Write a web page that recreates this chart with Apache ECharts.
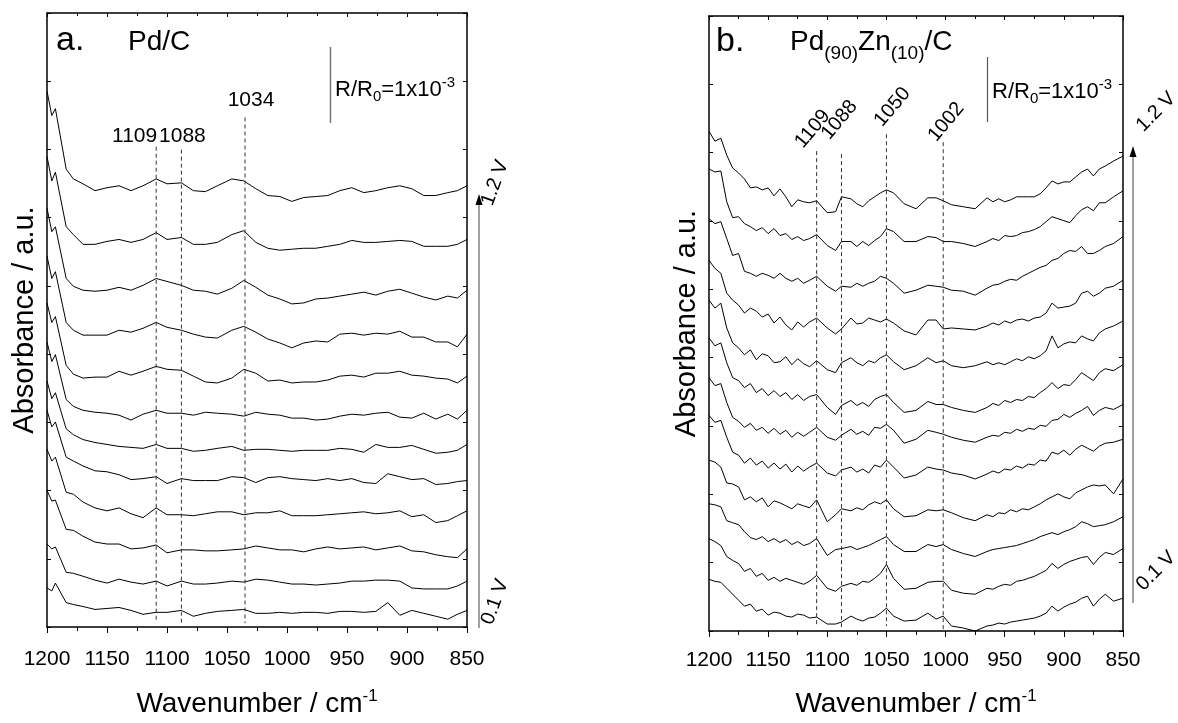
<!DOCTYPE html>
<html><head><meta charset="utf-8">
<script src="https://cdn.jsdelivr.net/npm/echarts/dist/echarts.min.js"></script>
<style>html,body{margin:0;padding:0;background:#fff}#c{width:1178px;height:723px}</style>
</head><body><div id="c"></div>
<script>
// ---------- DATA ----------
// wavenumbers (cm-1) at which each spectrum was read
const wnA = [1200,1196,1193,1184,1178,1170,1160,1150,1140,1130,1120,1109,1100,1088,1078,1068,1058,1046,1036,1026,1016,1006,996,986,976,966,956,946,936,926,916,906,896,886,876,866,858,850];
const wnB = [1200,1195,1190,1185,1180,1175,1170,1165,1160,1155,1150,1145,1140,1135,1130,1125,1120,1115,1109,
             1100,1093,1088,1080,1075,1070,1065,1060,1055,1050,1044,1035,1025,1015,1008,1002,
             995,985,975,965,960,955,950,945,940,935,930,925,920,915,910,905,900,895,890,885,880,875,870,865,858,850];

// Panel a: Pd/C, stacked absorbance (a.u.), top = 1.2 V ... bottom = 0.1 V
const pdC_1p2V = [549,524,531,469,459,454,447,450,452,447,452,459,454,455,447,446,452,459,457,449,442,441,436,440,441,442,447,450,445,447,450,452,449,442,442,445,447,452];
const pdC_1p1V = [482,457,466,410,402,392,392,395,397,394,397,404,397,399,392,392,394,402,406,394,388,386,387,388,388,390,392,396,394,394,395,396,395,390,390,390,392,397];
const pdC_1p0V = [429,405,410,357,349,345,344,345,348,345,350,357,354,350,345,344,341,347,355,348,340,336,331,332,336,337,339,341,343,340,344,346,342,338,335,339,337,345];
const pdC_0p9V = [380,357,364,312,304,299,299,299,304,302,306,312,307,304,300,297,296,304,308,302,295,291,286,291,293,292,300,301,299,301,300,303,297,297,292,292,287,300];
const pdC_0p8V = [332,312,318,268,259,255,256,256,262,258,262,267,264,263,257,251,250,255,264,260,252,253,250,251,251,253,257,258,256,260,260,262,258,257,255,254,250,257];
const pdC_0p7V = [292,272,279,233,226,222,220,219,217,212,218,222,219,219,217,220,219,218,216,220,218,217,214,214,212,213,216,218,217,219,220,215,214,219,213,218,213,222];
const pdC_0p6V = [252,234,240,203,197,192,189,187,185,184,183,187,183,183,180,181,183,185,181,182,182,181,180,181,181,181,183,182,179,187,184,184,186,182,178,179,181,187];
const pdC_0p5V = [222,205,210,174,170,165,160,159,156,151,152,154,147,152,150,150,150,154,153,148,153,154,152,151,150,152,150,152,148,147,157,154,151,152,146,147,149,150];
const pdC_0p4V = [182,170,174,138,136,128,122,119,122,116,112,122,115,115,114,116,118,118,115,117,117,119,114,114,114,115,116,117,118,116,117,119,113,115,107,109,114,119];
const pdC_0p3V = [140,129,130,100,99,93,87,85,85,80,81,84,76,79,79,78,78,79,80,83,81,79,79,77,80,82,80,81,82,79,81,83,78,77,74,72,71,80];
const pdC_0p2V = [85,80,82,56,55,52,48,45,49,46,44,47,42,47,44,44,45,47,46,49,48,46,44,44,43,44,45,47,47,48,48,47,40,39,39,39,42,47];
const pdC_0p1V = [40,37,45,25,23,21,18,19,20,17,13,15,15,17,11,14,16,17,18,14,14,15,14,15,15,14,16,16,15,16,25,12,17,14,11,8,13,17];

// Panel b: Pd(90)Zn(10)/C
const pdZn_1p2V = [503,493,496,479,466,461,455,446,447,444,446,438,445,437,427,434,432,431,433,
                   421,422,437,435,430,427,433,437,441,444,441,430,425,436,436,433,
                   429,427,425,436,432,435,432,434,437,437,437,437,440,446,453,450,452,452,457,462,465,458,465,468,473,478];
const pdZn_1p1V = [465,462,463,432,416,417,410,407,403,406,400,405,398,400,394,397,393,395,399,
                   388,383,392,392,387,392,388,393,397,405,402,392,392,397,396,392,
                   392,390,387,392,395,393,398,397,398,401,402,404,407,412,417,415,413,411,418,424,427,423,431,431,437,443];
const pdZn_1p0V = [415,410,412,395,378,380,362,360,357,360,358,355,360,355,352,355,350,353,357,
                   347,342,347,346,350,347,350,352,357,355,350,340,343,348,347,346,
                   343,342,338,345,348,349,352,354,353,357,360,363,366,368,373,375,380,383,382,387,380,380,383,387,390,397];
const pdZn_0p9V = [373,365,360,340,333,328,320,325,322,316,319,310,316,308,303,311,306,311,315,
                   305,299,304,315,309,310,315,313,311,314,310,302,298,313,313,304,
                   305,304,303,307,310,308,312,310,313,314,312,315,316,320,330,325,326,327,330,340,342,337,340,345,347,353];
const pdZn_0p8V = [333,325,330,305,290,285,278,283,273,279,277,270,271,276,268,274,269,266,272,
                   263,260,270,275,270,267,272,270,275,278,271,263,267,275,270,272,
                   267,265,267,271,268,270,268,271,274,272,276,274,277,282,297,285,289,291,290,297,294,292,300,304,307,312];
const pdZn_0p7V = [295,287,290,270,255,252,245,249,240,244,237,242,236,240,233,238,232,236,238,
                   225,218,227,232,227,230,226,233,236,238,230,220,222,231,228,228,
                   225,222,220,225,229,227,232,230,233,232,236,235,240,244,250,244,248,247,253,260,256,252,260,264,262,268];
const pdZn_0p6V = [255,247,249,230,215,211,205,209,202,205,199,204,198,202,195,200,196,200,205,
                   195,192,197,203,198,201,197,205,204,208,202,189,193,202,200,198,
                   195,192,190,195,197,196,200,199,203,201,204,203,207,206,212,213,218,215,219,222,226,217,222,225,223,228];
const pdZn_0p5V = [217,210,212,195,180,177,169,174,167,171,164,169,163,168,160,166,161,165,169,
                   159,156,162,165,160,163,159,167,165,172,165,154,157,165,163,162,
                   159,157,153,158,161,159,163,162,166,164,168,167,172,171,180,178,182,177,183,187,184,181,186,189,190,193];
const pdZn_0p4V = [172,170,165,149,148,145,132,135,130,134,125,131,129,126,123,128,126,124,132,
                   110,117,123,121,124,122,127,130,128,132,123,115,116,122,121,122,
                   119,114,111,117,115,119,118,122,120,123,122,125,128,132,135,138,135,133,139,142,145,147,146,147,138,153];
const pdZn_0p3V = [128,127,125,111,109,107,100,94,92,95,90,93,89,92,87,90,86,88,93,
                   76,82,83,85,82,84,86,89,92,95,87,80,80,87,85,87,
                   82,78,75,80,82,83,84,85,86,88,90,92,95,97,99,97,100,102,105,110,108,105,106,107,110,115];
const pdZn_0p2V = [93,90,86,75,71,68,60,63,55,58,51,54,50,53,51,49,47,50,56,
                   43,40,45,48,46,50,49,53,58,67,53,42,43,49,50,50,
                   41,38,37,43,42,45,47,46,50,51,53,55,58,61,68,63,67,70,72,74,75,67,74,79,77,83];
const pdZn_0p1V = [52,50,49,43,37,31,25,27,20,22,16,19,18,15,14,17,16,13,14,
                   7,7,9,15,12,10,13,14,18,23,15,10,11,18,12,15,
                   5,3,0,5,6,8,7,9,10,11,12,13,15,18,25,20,24,27,29,33,35,25,32,37,30,33];

const potentials = ['1.2 V','1.1 V','1.0 V','0.9 V','0.8 V','0.7 V','0.6 V','0.5 V','0.4 V','0.3 V','0.2 V','0.1 V'];
const tracesA = [pdC_1p2V,pdC_1p1V,pdC_1p0V,pdC_0p9V,pdC_0p8V,pdC_0p7V,pdC_0p6V,pdC_0p5V,pdC_0p4V,pdC_0p3V,pdC_0p2V,pdC_0p1V];
const tracesB = [pdZn_1p2V,pdZn_1p1V,pdZn_1p0V,pdZn_0p9V,pdZn_0p8V,pdZn_0p7V,pdZn_0p6V,pdZn_0p5V,pdZn_0p4V,pdZn_0p3V,pdZn_0p2V,pdZn_0p1V];

// marked bands
const peaksA = [1109, 1088, 1035];
const peakLabelsA = ['1109', '1088', '1034'];
const peaksB = [1109, 1088, 1050, 1002];
const peakLabelsB = ['1109', '1088', '1050', '1002'];

// ---------- CHART ----------
const FONT = '"Liberation Sans", Arial, Helvetica, sans-serif';
const chart = echarts.init(document.getElementById('c'), null, {renderer: 'canvas'});

function mkX(g, pos, main) {
  return {
    type: 'value', gridIndex: g, position: pos, inverse: true,
    min: 850, max: 1200, interval: 50,
    axisLine: {show: true, onZero: false, lineStyle: {color: '#000', width: 1.5}},
    axisTick: {show: true, inside: !main, length: main ? 6 : 4, lineStyle: {color: '#000', width: 1}},
    minorTick: {show: true, splitNumber: 2, length: main ? 4 : 3, lineStyle: {color: '#000', width: 1}},
    axisLabel: {show: main, fontSize: 21, color: '#000', fontFamily: FONT, margin: g === 0 ? 22 : 19,
                formatter: v => String(v)},
    splitLine: {show: false}, minorSplitLine: {show: false},
    name: main ? '{a|Wavenumber / cm}{s|-1}' : '',
    nameLocation: 'middle', nameGap: g === 0 ? 61 : 57,
    nameTextStyle: {fontFamily: FONT, color: '#000', fontSize: 28,
      rich: {a: {fontSize: 28, fontFamily: FONT, color: '#000', lineHeight: 32},
             s: {fontSize: 17, fontFamily: FONT, color: '#000', verticalAlign: 'top', lineHeight: 17}}}
  };
}
function mkY(g, pos, M, main) {
  return {
    type: 'value', gridIndex: g, position: pos, min: 0, max: M, interval: M / 9,
    axisLine: {show: true, onZero: false, lineStyle: {color: '#000', width: 1.5}},
    axisTick: {show: true, inside: true, length: 4, lineStyle: {color: '#000', width: 1}},
    axisLabel: {show: false}, splitLine: {show: false},
    name: main ? 'Absorbance / a.u.' : '', nameLocation: 'middle', nameGap: 8,
    nameTextStyle: {fontFamily: FONT, color: '#000', fontSize: 29}
  };
}

const series = [];
tracesA.forEach((arr, i) => series.push({
  type: 'line', name: 'Pd/C ' + potentials[i], xAxisIndex: 0, yAxisIndex: 0,
  data: wnA.map((w, k) => [w, arr[k]]), showSymbol: false, silent: true,
  lineStyle: {color: '#000', width: 1}
}));
tracesB.forEach((arr, i) => series.push({
  type: 'line', name: 'PdZn/C ' + potentials[i], xAxisIndex: 2, yAxisIndex: 2,
  data: wnB.map((w, k) => [w, arr[k]]), showSymbol: false, silent: true,
  lineStyle: {color: '#000', width: 1}
}));
// dashed band markers (vertical extent is layout only)
const dashA = [[492, 7], [489, 2], [522, 4]];
const dashB = [[483, 5], [480, 0], [500, 5], [492, 0]];
peaksA.forEach((p, i) => series.push({
  type: 'line', xAxisIndex: 0, yAxisIndex: 0, data: [[p, dashA[i][0]], [p, dashA[i][1]]],
  showSymbol: false, silent: true, lineStyle: {color: '#333', width: 1, type: [4, 3]}
}));
peaksB.forEach((p, i) => series.push({
  type: 'line', xAxisIndex: 2, yAxisIndex: 2, data: [[p, dashB[i][0]], [p, dashB[i][1]]],
  showSymbol: false, silent: true, lineStyle: {color: '#333', width: 1, type: [4, 3]}
}));

chart.setOption({
  animation: false, backgroundColor: '#fff',
  grid: [{left: 47, top: 13, width: 420, height: 629}, {left: 709, top: 16, width: 414, height: 619}],
  xAxis: [mkX(0, 'bottom', true), mkX(0, 'top', false), mkX(1, 'bottom', true), mkX(1, 'top', false)],
  yAxis: [mkY(0, 'left', 629, true), mkY(0, 'right', 629, false), mkY(1, 'left', 619, true), mkY(1, 'right', 619, false)],
  series: series
});

// ---------- ANNOTATIONS ----------
const mctx = document.createElement('canvas').getContext('2d');
function fnt(s) { return s + 'px ' + FONT; }
function tw(t, s) { mctx.font = fnt(s); return mctx.measureText(t).width; }
function txt(t, x, y, s, opt) {
  opt = opt || {};
  return {type: 'text', x: x, y: y, rotation: opt.rot || 0, silent: true,
    style: {text: t, font: fnt(s), fill: '#000', align: opt.align || 'left', verticalAlign: 'middle'}};
}
// sequence of text parts on a baseline; dy shifts baseline (positive = down)
function seq(x, base, parts) {
  const out = [];
  parts.forEach(p => {
    out.push(txt(p.t, x, base + (p.dy || 0) - 0.34 * p.s, p.s));
    x += tw(p.t, p.s);
  });
  return out;
}
const g = [];
// panel titles
g.push(...seq(56, 52, [{t: 'a.', s: 34}]));
g.push(...seq(128, 52, [{t: 'Pd/C', s: 28}]));
g.push(...seq(716, 53, [{t: 'b.', s: 34}]));
g.push(...seq(790, 52, [{t: 'Pd', s: 28}, {t: '(90)', s: 19, dy: 8}, {t: 'Zn', s: 28}, {t: '(10)', s: 19, dy: 8}, {t: '/C', s: 28}]));
// scale bars
g.push({type: 'line', silent: true, shape: {x1: 330.5, y1: 47, x2: 330.5, y2: 123}, style: {stroke: '#777', lineWidth: 1.5}});
g.push(...seq(335, 97, [{t: 'R/R', s: 22}, {t: '0', s: 15, dy: 5}, {t: '=1x10', s: 22}, {t: '-3', s: 15, dy: -9}]));
g.push({type: 'line', silent: true, shape: {x1: 987.5, y1: 57, x2: 987.5, y2: 122}, style: {stroke: '#555', lineWidth: 1.2}});
g.push(...seq(992, 99, [{t: 'R/R', s: 22}, {t: '0', s: 15, dy: 5}, {t: '=1x10', s: 22}, {t: '-3', s: 15, dy: -9}]));
// potential arrows
function arrow(x, yTop, yBot) {
  return [
    {type: 'line', silent: true, shape: {x1: x, y1: yTop + 8, x2: x, y2: yBot}, style: {stroke: '#808080', lineWidth: 1.5}},
    {type: 'polygon', silent: true, shape: {points: [[x, yTop], [x - 3.5, yTop + 11], [x + 3.5, yTop + 11]]}, style: {fill: '#000'}}
  ];
}
g.push(...arrow(479, 194, 628));
g.push(...arrow(1133, 146, 603));
g.push(txt('1.2 V', 495, 183, 20, {align: 'center', rot: 70 * Math.PI / 180}));
g.push(txt('0.1 V', 495, 602, 20, {align: 'center', rot: 70 * Math.PI / 180}));
g.push(txt('1.2 V', 1156, 112, 20, {align: 'center', rot: Math.PI / 4}));
g.push(txt('0.1 V', 1156, 571, 20, {align: 'center', rot: Math.PI / 4}));
// band labels
const pxA = peaksA.map(p => chart.convertToPixel({xAxisIndex: 0}, p));
g.push(txt(peakLabelsA[0], pxA[0] + 1, 136, 21, {align: 'right'}));
g.push(txt(peakLabelsA[1], pxA[1] + 1, 136, 21, {align: 'center'}));
g.push(txt(peakLabelsA[2], pxA[2] + 6, 100, 21, {align: 'center'}));
const pxB = peaksB.map(p => chart.convertToPixel({xAxisIndex: 2}, p));
const offB = [[-4, 129], [-2, 120], [6, 107], [3, 122]];
peakLabelsB.forEach((t, i) => g.push(txt(t, pxB[i] + offB[i][0], offB[i][1], 20, {align: 'center', rot: 50 * Math.PI / 180})));

chart.setOption({graphic: g});
</script>
</body></html>
